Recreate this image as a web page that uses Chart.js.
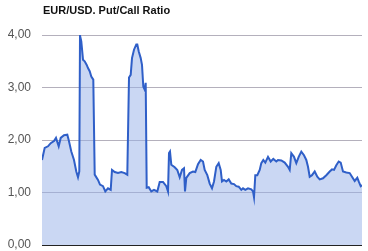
<!DOCTYPE html>
<html>
<head>
<meta charset="utf-8">
<script src="https://cdn.jsdelivr.net/npm/chart.js@4"></script>
<style>
html,body{margin:0;padding:0;background:#fff;}
#wrap{position:relative;width:368px;height:251px;}
</style>
</head>
<body>
<div id="wrap"><canvas id="c" width="368" height="251"></canvas></div>
<script>
const chartTitle = "EUR/USD. Put/Call Ratio";
const yTicks = [0, 1, 2, 3, 4];
const days = [0,2.7,6,8.7,12,14,16.7,18.7,22,25.3,26.7,29.3,32,34.3,36,37.3,38,39.3,41,42.7,44.7,46,47.7,49.3,51.3,52.7,56,58,61,63.3,66,68.7,70,72.7,76,79.3,82.7,85.3,87,88.7,90,92,94.3,95.3,96.7,98.7,100,101.3,102.7,103.7,104.7,106.7,109.3,112,115.3,117.7,121,124.3,126,127,128,129.3,132.7,135.3,137.7,140,142,143,144.3,147.7,151,153.3,156,158.7,161,162.7,165.3,167.7,170,172,174.3,176.7,178.7,180,182,184.3,186.7,189.3,192,194.3,196.7,199.3,201,203.3,206,209.3,211,212,213.3,215.3,217.7,219.3,221.3,223.3,226,228.7,231.3,234.3,236,239.3,242.7,246,247.7,249.3,252,254.3,256.7,259.3,262,264.3,266,267.7,270,272.7,275.3,277.7,281,284.3,287.7,290,292,294.3,296.7,298.7,301,304.3,307.7,310,312.7,315.3,316.7,318.7,320];
const ratio = [1.62,1.85,1.88,1.94,1.98,2.04,1.88,2.04,2.09,2.10,2.00,1.78,1.62,1.40,1.29,1.40,3.99,3.88,3.53,3.50,3.43,3.37,3.31,3.21,3.15,1.34,1.24,1.15,1.12,1.02,1.08,1.05,1.43,1.39,1.37,1.39,1.37,1.34,3.19,3.24,3.56,3.72,3.82,3.82,3.69,3.56,3.43,3.02,2.96,3.09,1.09,1.10,1.02,1.05,1.02,1.20,1.20,1.12,1.02,1.75,1.78,1.53,1.48,1.43,1.29,1.43,1.46,1.02,1.28,1.37,1.40,1.39,1.54,1.62,1.59,1.43,1.33,1.17,1.08,1.21,1.49,1.56,1.43,1.21,1.24,1.21,1.25,1.17,1.16,1.12,1.11,1.05,1.08,1.05,1.08,1.06,1.02,0.91,1.33,1.33,1.43,1.56,1.62,1.57,1.68,1.59,1.64,1.59,1.62,1.61,1.57,1.49,1.43,1.75,1.68,1.56,1.68,1.78,1.71,1.62,1.49,1.30,1.33,1.40,1.30,1.25,1.27,1.33,1.40,1.44,1.43,1.52,1.59,1.57,1.40,1.38,1.37,1.30,1.22,1.28,1.21,1.12,1.14];

const points = days.map((d, i) => ({x: d, y: ratio[i]}));

const titlePlugin = {
  id: 'leftTitle',
  afterDraw(chart) {
    const ctx = chart.ctx;
    ctx.save();
    ctx.font = 'bold 11px "Liberation Sans", Arial, sans-serif';
    ctx.fillStyle = '#111';
    ctx.textAlign = 'left';
    ctx.textBaseline = 'alphabetic';
    ctx.fillText(chartTitle, 43, 14);
    ctx.restore();
  }
};

new Chart(document.getElementById('c'), {
  type: 'line',
  data: {
    datasets: [{
      data: points,
      borderColor: '#2f5fc8',
      borderWidth: 2,
      backgroundColor: 'rgba(150,175,232,0.5)',
      fill: 'origin',
      pointRadius: 0,
      tension: 0
    }]
  },
  options: {
    responsive: false,
    animation: false,
    layout: {padding: {left: 0, right: 6, top: 35, bottom: 6}},
    plugins: {legend: {display: false}, tooltip: {enabled: false}, title: {display: false}},
    scales: {
      x: {
        type: 'linear',
        min: 0,
        max: 320,
        display: false
      },
      y: {
        min: 0,
        max: 4,
        afterFit(scale) { scale.width = 42; scale.paddingTop = 0; scale.paddingBottom = 0; },
        afterBuildTicks(scale) { scale.ticks = yTicks.map(v => ({value: v})); },
        ticks: {
          padding: 11,
          color: '#555',
          font: {family: '"Liberation Sans", Arial, sans-serif', size: 12},
          callback: v => v.toFixed(2).replace('.', ',')
        },
        grid: {
          drawTicks: false,
          color: ctx => (ctx.tick && ctx.tick.value === 0) ? '#222' : '#b4b0bc',
          lineWidth: 1
        },
        border: {display: false}
      }
    }
  },
  plugins: [titlePlugin]
});
</script>
</body>
</html>
